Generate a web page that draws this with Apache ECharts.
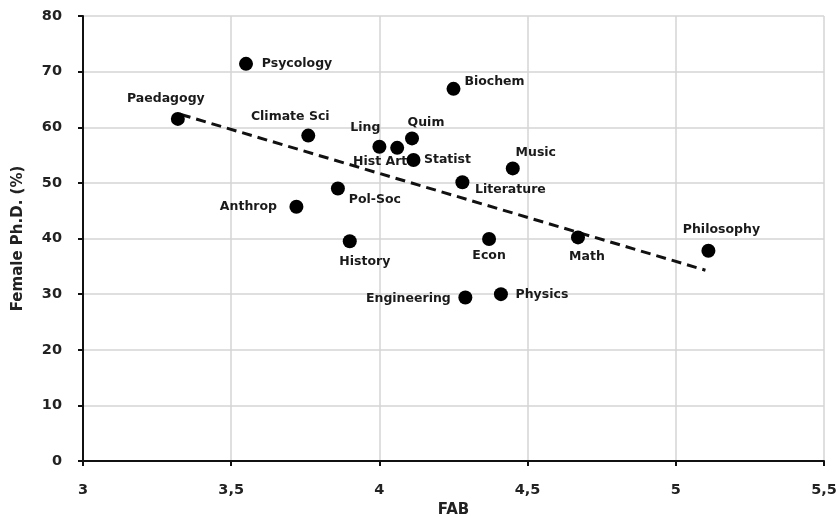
<!DOCTYPE html>
<html><head><meta charset="utf-8">
<script src="https://cdn.jsdelivr.net/npm/echarts@6/dist/echarts.min.js"></script>
<style>html,body{margin:0;padding:0;background:#fff}#c{width:839px;height:517px}</style>
</head><body><div id="c"></div>
<script>
const fields = ['Psycology','Paedagogy','Climate Sci','Ling','Hist Art','Quim','Statist','Biochem','Music','Literature','Pol-Soc','Anthrop','History','Econ','Math','Philosophy','Engineering','Physics'];
const fab    = [3.55, 3.32, 3.76, 4.00, 4.06, 4.11, 4.115, 4.25, 4.45, 4.28, 3.86, 3.72, 3.90, 4.37, 4.67, 5.11, 4.29, 4.41];
const female = [71.4, 61.5, 58.5, 56.5, 56.3, 58.0, 54.1, 66.9, 52.6, 50.1, 49.0, 45.7, 39.5, 39.9, 40.2, 37.8, 29.4, 30.0];
const trendX = [3.33, 5.10];
const trendY = [62.3, 34.3];
const xTicks = ['3','3,5','4','4,5','5','5,5'];

// label offsets (style only, px from point centre)
const labelOffset = {
  'Psycology':[51,0],'Paedagogy':[-12,-20],'Climate Sci':[-18,-19],'Ling':[-14,-19],
  'Hist Art':[-17,14],'Quim':[14,-16],'Statist':[34,0],'Biochem':[41,-7],'Music':[23,-16],
  'Literature':[48,7],'Pol-Soc':[37,11],'Anthrop':[-48,0],'History':[15,20],'Econ':[0,17],
  'Math':[9,19],'Philosophy':[13,-21],'Engineering':[-57,1],'Physics':[41,1]
};

const FONT = 'DejaVu Sans';
const pts = fields.map((n,i)=>({ name:n, value:[fab[i], female[i]] }));

const chart = echarts.init(document.getElementById('c'), null, {renderer:'canvas'});
chart.setOption({
  animation:false,
  grid:{left:83, right:15, top:16, bottom:56, containLabel:false, outerBoundsMode:'none'},
  xAxis:{
    type:'value', min:3, max:5.5, interval:0.5,
    name:'FAB', nameLocation:'middle', nameGap:41,
    nameTextStyle:{fontFamily:FONT, fontWeight:'bold', fontSize:15, color:'#222'},
    axisLine:{show:true, onZero:false, lineStyle:{color:'#111', width:2}},
    axisTick:{show:true, length:5, lineStyle:{color:'#111', width:2}},
    axisLabel:{fontFamily:FONT, fontWeight:'bold', fontSize:14.5, color:'#222', margin:22,
      formatter:(v)=>xTicks[Math.round((v-3)/0.5)]},
    splitLine:{show:true, lineStyle:{color:'#d4d4d4', width:1.5}}
  },
  yAxis:{
    type:'value', min:0, max:80, interval:10,
    name:'Female Ph.D. (%)', nameLocation:'middle', nameGap:57, nameRotate:90,
    nameTextStyle:{fontFamily:FONT, fontWeight:'bold', fontSize:15, color:'#222'},
    axisLine:{show:true, lineStyle:{color:'#111', width:2}},
    axisTick:{show:true, length:5, lineStyle:{color:'#111', width:2}},
    axisLabel:{fontFamily:FONT, fontWeight:'bold', fontSize:14.5, color:'#222', margin:21},
    splitLine:{show:true, lineStyle:{color:'#d4d4d4', width:1.5}}
  },
  series:[
    {
      type:'line', data: trendX.map((x,i)=>[x, trendY[i]]),
      symbol:'none', z:1,
      lineStyle:{color:'#111', width:3, type:[10,6]}
    },
    {
      type:'scatter', data: pts, symbol:'circle', symbolSize:14, z:3,
      itemStyle:{color:'#000', opacity:1},
      label:{show:true, position:'inside', formatter:'{b}', color:'#1a1a1a',
        fontFamily:FONT, fontWeight:'bold', fontSize:12.5, align:'center', verticalAlign:'middle'},
      labelLayout:(p)=>{ const o = labelOffset[fields[p.dataIndex]]; return {dx:o[0], dy:o[1], hideOverlap:false}; }
    }
  ]
});
</script></body></html>
